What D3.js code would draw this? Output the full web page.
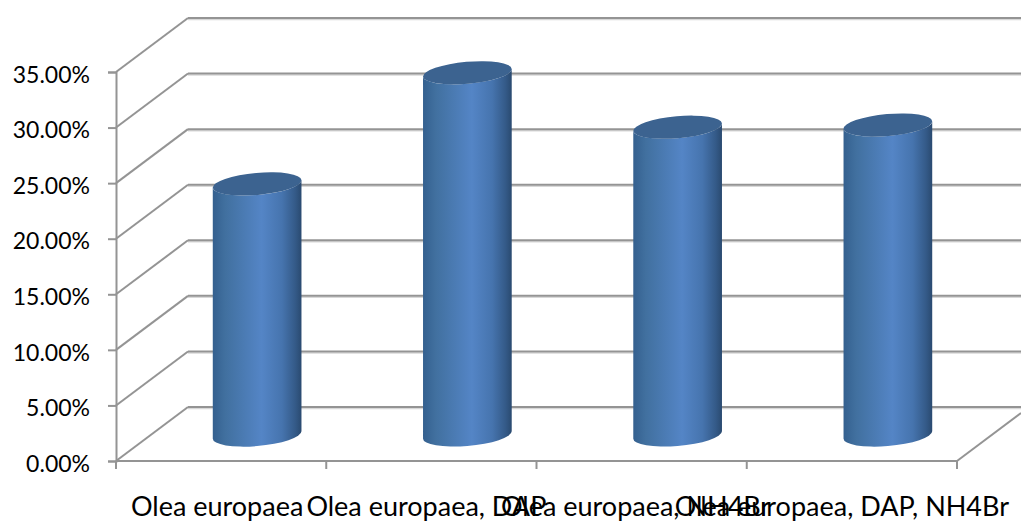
<!DOCTYPE html>
<html><head><meta charset="utf-8">
<script src="https://cdn.jsdelivr.net/npm/d3@7"></script>
<style>html,body{margin:0;padding:0;background:#fff}svg{display:block}</style>
</head><body><svg id="c" width="1021" height="523"></svg>
<script>
const categories = ["Olea europaea","Olea europaea, DAP","Olea europaea, NH4Br","Olea europaea, DAP, NH4Br"];
const values = [0.225, 0.325, 0.276, 0.278];
const tickValues = [0,0.05,0.10,0.15,0.20,0.25,0.30,0.35];

const svg = d3.select("#c");
const x0=116,x1=957,yB=461,yT=72,dx=72,dy=-54;
const x = d3.scaleBand().domain(categories).range([x0,x1]);
const y = d3.scaleLinear().domain([0,0.35]).range([yB,yT]);
const grid="#949494", shadow="#d8d8d8";
const font="Lato,sans-serif";
const defs=svg.append("defs");
const g=defs.append("linearGradient").attr("id","cyl");
[[0,"#34608f"],[0.14,"#41709f"],[0.55,"#5485c6"],[0.78,"#4674ae"],[0.93,"#345a88"],[1,"#2a4a70"]]
 .forEach(s=>g.append("stop").attr("offset",s[0]).attr("stop-color",s[1]));

function ln(a,b,c,d,col=grid,w=2){svg.append("line").attr("x1",a).attr("y1",b).attr("x2",c).attr("y2",d).attr("stroke",col).attr("stroke-width",w);}
tickValues.forEach(v=>{
  const yy=y(v);
  ln(x0+dx,yy+dy+1.5,1021,yy+dy+1.5,shadow,1.5);
  ln(x0+dx,yy+dy,1021,yy+dy);
  ln(x0,yy,x0+dx,yy+dy);
});
ln(x1,yB,1021,yB+dy*(1021-x1)/dx);
const yAxis=d3.axisLeft(y).tickValues(tickValues).tickFormat(d3.format(".2%")).tickSize(8).tickPadding(18);
const ga=svg.append("g").attr("transform",`translate(${x0},0)`).call(yAxis);
ga.select(".domain").attr("stroke",grid).attr("stroke-width",2);
ga.selectAll(".tick line").attr("stroke",grid).attr("stroke-width",2);
ga.selectAll("text").attr("font-family",font).attr("font-size",23).attr("fill","#000").attr("dy","0.62em").attr("y",-4);
const xTicks=d3.range(categories.length+1).map(i=>x0+i*x.step());
ln(x0,yB,x1,yB);
xTicks.forEach(t=>ln(t,yB,t,yB+8));
const labelShift=[-4,-5,-6,-10];
svg.append("g").selectAll("text").data(categories).join("text")
 .attr("x",(d,i)=>x(d)+x.bandwidth()/2+labelShift[i]).attr("y",516)
 .attr("text-anchor","middle").attr("font-family",font).attr("font-size",27).attr("fill","#000").text(d=>d);
const rx=44.5,ry=11,rot=-5,th=rot*Math.PI/180;
const tx=Math.sqrt(rx*rx*Math.cos(th)**2+ry*ry*Math.sin(th)**2);
const ty=(rx*rx-ry*ry)*Math.sin(th)*Math.cos(th)/tx;
categories.forEach((c,i)=>{
  const cx=x(c)+x.bandwidth()/2+dx/2;
  const base=yB+dy/2+1, top=y(values[i])+dy/2;
  const side=`M${cx-tx},${top-ty}L${cx-tx},${base-ty}A${rx},${ry} ${rot} 0 0 ${cx+tx},${base+ty}L${cx+tx},${top+ty}A${rx},${ry} ${rot} 0 1 ${cx-tx},${top-ty}Z`;
  svg.append("path").attr("d",side).attr("fill","url(#cyl)");
  svg.append("ellipse").attr("cx",0).attr("cy",0).attr("rx",rx).attr("ry",ry)
    .attr("transform",`translate(${cx},${top}) rotate(${rot})`).attr("fill","#3c6390");
});
</script></body></html>
